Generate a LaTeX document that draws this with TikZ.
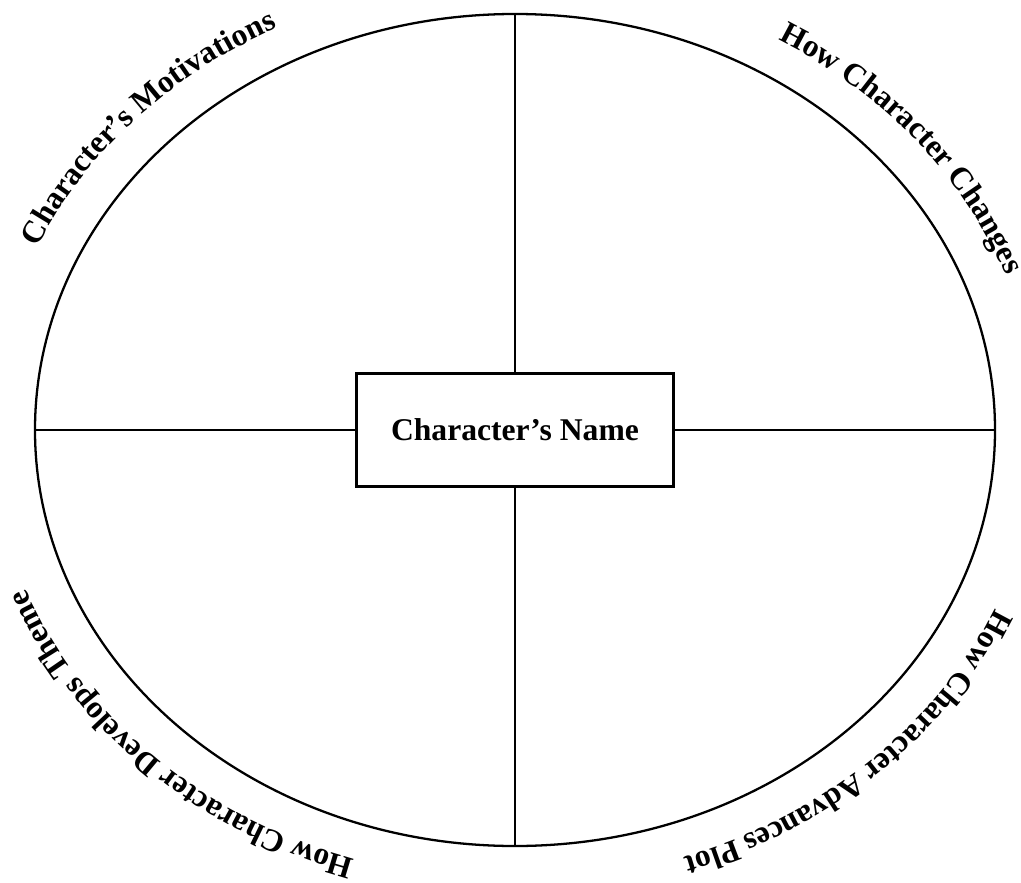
\documentclass[tikz,border=0pt]{standalone}
\usepackage{fontspec}
\setmainfont{Liberation Serif}
\usetikzlibrary{decorations.text}

\newcommand\lblfont{\fontsize{18}{20}\selectfont\bfseries}

\begin{document}
\begin{tikzpicture}[
  rim/.style={line width=1.3pt},
  namebox/.style={draw, line width=1.3pt, minimum width=6.34cm, minimum height=2.26cm,
                  inner sep=0pt, font=\lblfont},
  arclab/.style={decorate}
]
\useasboundingbox (-10.30,-9.04) rectangle (10.12,8.60);

% ===================== Outline =====================
    \draw[rim] (0,0) ellipse [x radius=9.6, y radius=8.32];

    % Ends of the cross on the rim
    \coordinate (top) at (0,8.32);
    \coordinate (bot) at (0,-8.32);
    \coordinate (lft) at (-9.6,0);
    \coordinate (rgt) at (9.6,0);

% ===================== Centre =====================
    \node[namebox] (name) at (0,0) {Character's Name};

    % Cross lines
    \draw[rim] (top) -- (name.north);
    \draw[rim] (name.south) -- (bot);
    \draw[rim] (lft) -- (name.west);
    \draw[rim] (name.east) -- (rgt);

% ===================== Quadrant labels =====================
    \path[arclab, decoration={text along path, text align=center,
          text={|\lblfont|Character's Motivations}}]
      (172.5:10.45 and 9.03) arc [start angle=172.5, end angle=102.5, x radius=10.45, y radius=9.03];
    \path[arclab, decoration={text along path, text align=center,
          text={|\lblfont|How Character Changes}}]
      (74:10.45 and 9.03) arc [start angle=74, end angle=4, x radius=10.45, y radius=9.03];
    \path[arclab, decoration={text along path, text align=center,
          text={|\lblfont|How Character Advances Plot}}]
      (-11.5:10.45 and 9.03) arc [start angle=-11.5, end angle=-81.5, x radius=10.45, y radius=9.03];
    \path[arclab, decoration={text along path, text align=center,
          text={|\lblfont|How Character Develops Theme}}]
      (260.8:10.45 and 9.03) arc [start angle=260.8, end angle=190.8, x radius=10.45, y radius=9.03];

\end{tikzpicture}
\end{document}
